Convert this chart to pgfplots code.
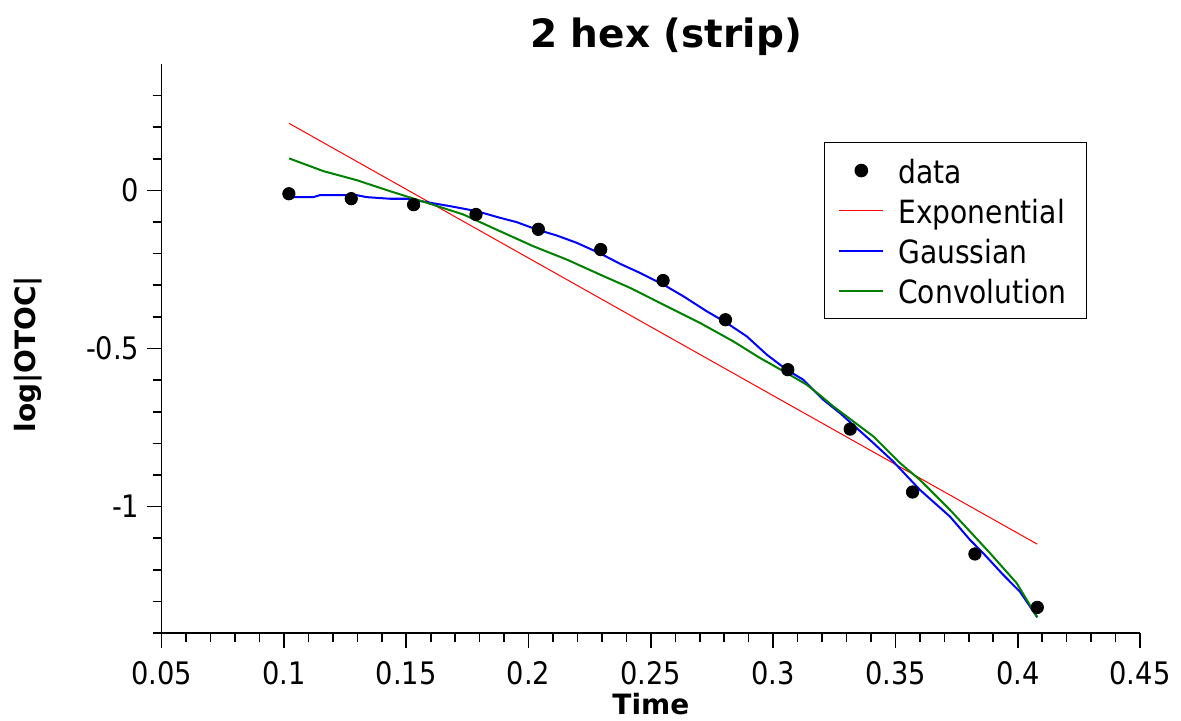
\documentclass[border=0pt]{standalone}
\usepackage{fontspec}
\setmainfont{DejaVu Sans}
\newfontfamily\cond[FakeStretch=0.88]{DejaVu Sans}
\usepackage{pgfplots}
\pgfplotsset{compat=1.18}
\begin{document}
\begin{tikzpicture}
\useasboundingbox (-80.85pt,-44pt) rectangle (509.65pt,316.5pt);
\begin{axis}[
  at={(0pt,0pt)}, anchor=south west,
  width=489.15pt, height=284.5pt, scale only axis,
  xmin=0.05, xmax=0.45, ymin=-1.4, ymax=0.4,
  axis x line=bottom, axis y line=left,
  axis line style={-, line width=0.8pt},
  tick align=outside, major tick length=7.5pt, minor tick length=4.5pt,
  every tick/.style={line width=0.8pt, black},
  xtick={0.05,0.1,0.15,0.2,0.25,0.3,0.35,0.4,0.45},
  xticklabels={0.05,0.1,0.15,0.2,0.25,0.3,0.35,0.4,0.45},
  minor xtick={0.06,0.07,0.08,0.09,0.11,0.12,0.13,0.14,0.16,0.17,0.18,0.19,0.21,0.22,0.23,0.24,0.26,0.27,0.28,0.29,0.31,0.32,0.33,0.34,0.36,0.37,0.38,0.39,0.41,0.42,0.43,0.44},
  ytick={-1,-0.5,0},
  yticklabels={-1,-0.5,0},
  minor ytick={-1.4,-1.3,-1.2,-1.1,-0.9,-0.8,-0.7,-0.6,-0.4,-0.3,-0.2,-0.1,0.1,0.2,0.3},
  ticklabel style={font=\cond\fontsize{15.5}{18}\selectfont},
  xticklabel style={inner ysep=6.5pt},
  yticklabel style={inner xsep=3.5pt},
  title={2 hex (strip)},
  title style={font=\bfseries\fontsize{19.5}{23}\selectfont, at={(axis description cs:0.5155,1)}, anchor=base, yshift=2pt},
  xlabel={Time},
  xlabel style={font=\bfseries\fontsize{14}{17}\selectfont, at={(axis description cs:0.5,0)}, anchor=base, yshift=-40.5pt},
  ylabel={log|OTOC|},
  ylabel style={font=\bfseries\fontsize{14}{17}\selectfont, at={(axis description cs:-0.1367,0.49)}, anchor=center},
  legend style={at={(0.946,0.863)}, anchor=north east, draw=black, line width=0.6pt,
    font=\cond\fontsize{16}{19}\selectfont, inner xsep=7pt, inner ysep=4pt, column sep=4pt,
    nodes={inner xsep=3pt, inner ysep=2pt, text height=14.5pt, text depth=1.5pt}},
  legend cell align=left,
  legend image code/.code={\draw[mark repeat=2,mark phase=2,#1] plot coordinates {(0pt,0pt) (11pt,0pt) (22pt,0pt)};},
]
\addplot[only marks, mark=*, mark size=3.1pt, black] coordinates {
(0.102,-0.0105) (0.1275,-0.026) (0.153,-0.045) (0.1785,-0.076) (0.204,-0.123)
(0.2295,-0.187) (0.255,-0.285) (0.2805,-0.409) (0.306,-0.567) (0.3315,-0.755)
(0.357,-0.954) (0.3825,-1.150) (0.408,-1.319)};
\addlegendentry{data}
\addplot[red, line width=0.5pt] coordinates {(0.1021,0.212) (0.4080,-1.119)};
\addlegendentry{Exponential}
\addplot[blue, line width=1pt, line join=round] coordinates {
(0.1021,-0.0212)(0.1120,-0.0212)(0.1147,-0.0149)(0.1297,-0.0149)(0.1338,-0.0212)(0.1433,-0.0263)(0.1502,-0.0263)(0.1584,-0.0371)(0.1679,-0.0497)(0.1788,-0.0656)(0.1883,-0.0865)(0.1952,-0.1004)(0.2033,-0.1235)(0.2115,-0.1425)(0.2197,-0.1657)(0.2292,-0.1990)(0.2374,-0.2320)(0.2456,-0.2610)(0.2551,-0.2978)(0.2633,-0.3348)(0.2728,-0.3820)(0.2810,-0.4191)(0.2892,-0.4615)(0.2974,-0.5195)(0.3055,-0.5670)(0.3123,-0.5987)(0.3205,-0.6620)(0.3273,-0.7042)(0.3410,-0.7992)(0.3491,-0.8575)(0.3600,-0.9471)(0.3723,-1.0317)(0.3805,-1.1055)(0.3859,-1.1476)(0.3941,-1.2163)(0.4009,-1.2692)(0.4080,-1.3503)};
\addlegendentry{Gaussian}
\addplot[green!50!black, line width=1pt, line join=round] coordinates {
(0.1021,0.1014)(0.1161,0.0611)(0.1297,0.0326)(0.1433,-0.0022)(0.1584,-0.0390)(0.1733,-0.0760)(0.1883,-0.1289)(0.2019,-0.1764)(0.2156,-0.2186)(0.2292,-0.2661)(0.2415,-0.3082)(0.2565,-0.3665)(0.2701,-0.4191)(0.2837,-0.4774)(0.2946,-0.5299)(0.3055,-0.5774)(0.3137,-0.6145)(0.3192,-0.6480)(0.3246,-0.6832)(0.3410,-0.7783)(0.3519,-0.8625)(0.3600,-0.9154)(0.3723,-1.0105)(0.3887,-1.1476)(0.3996,-1.2426)(0.4080,-1.3503)};
\addlegendentry{Convolution}
\end{axis}
\end{tikzpicture}
\end{document}
